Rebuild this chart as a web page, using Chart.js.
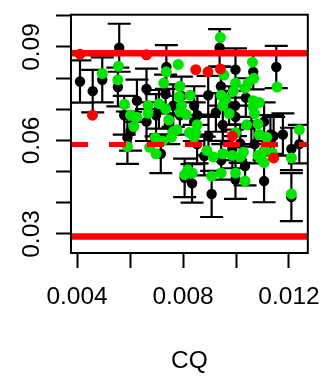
<html>
<head>
<meta charset="UTF-8">
<script src="https://cdn.jsdelivr.net/npm/chart.js"></script>
<title>CQ</title>
<style>
  body { margin: 0; background: #fff; }
</style>
</head>
<body>
<div style="width: 336px; height: 382px;"><canvas id="cqPlot"></canvas></div>
<script>
    // black points (observed) with their vertical error
    const cqBlack = [0.00411, 0.00459, 0.00559, 0.00554, 0.00662, 0.00737, 0.00734, 0.00842, 0.00938, 0.00895,
        0.00998, 0.01065, 0.01037, 0.01152, 0.00943, 0.00997, 0.00578, 0.00590, 0.00834, 0.00908,
        0.01034, 0.01142, 0.01106, 0.01209, 0.01209, 0.01239, 0.00806, 0.00896, 0.00944, 0.00998,
        0.00602, 0.00662, 0.00746, 0.00794, 0.00788, 0.00842, 0.00974, 0.00854, 0.00998, 0.01106,
        0.01130, 0.00716, 0.00986, 0.01070, 0.00698, 0.00950, 0.00853, 0.01058, 0.00763, 0.00626,
        0.01177, 0.00495, 0.00709, 0.00880, 0.00924, 0.01016];
    const valBlack = [0.07893, 0.07583, 0.08975, 0.07716, 0.07655, 0.08357, 0.07491, 0.07119, 0.08975, 0.07450,
        0.08273, 0.08202, 0.07376, 0.08357, 0.07738, 0.07119, 0.06810, 0.06089, 0.04623, 0.04283,
        0.05180, 0.06139, 0.04697, 0.04181, 0.05728, 0.05882, 0.04800, 0.06139, 0.05366, 0.04747,
        0.06294, 0.06603, 0.06501, 0.07429, 0.06810, 0.06603, 0.07119, 0.06810, 0.06757, 0.06603,
        0.06191, 0.05573, 0.05728, 0.05882, 0.06810, 0.06501, 0.05882, 0.06501, 0.07119, 0.07274,
        0.06191, 0.07945, 0.07000, 0.05500, 0.06900, 0.05900];
    const errBlack = [0.0068, 0.0068, 0.0077, 0.0062, 0.0065, 0.0070, 0.0062, 0.0062, 0.0060, 0.0062,
        0.0068, 0.0056, 0.0062, 0.0068, 0.0062, 0.0062, 0.0062, 0.0084, 0.0062, 0.0074,
        0.0062, 0.0062, 0.0068, 0.0077, 0.0068, 0.0062, 0.0062, 0.0062, 0.0062, 0.0062,
        0.0062, 0.0062, 0.0062, 0.0062, 0.0062, 0.0062, 0.0062, 0.0062, 0.0062, 0.0062,
        0.0062, 0.0062, 0.0062, 0.0062, 0.0068, 0.0062, 0.0062, 0.0062, 0.0068, 0.0068,
        0.0068, 0.0072, 0.0062, 0.0062, 0.0062, 0.0062];

    // green points
    const cqGreen = [0.00495, 0.00556, 0.00554, 0.00579, 0.00602, 0.00626, 0.00668, 0.00668, 0.00709, 0.00734,
        0.00737, 0.00727, 0.00782, 0.00788, 0.00786, 0.00827, 0.00794, 0.00789, 0.00812, 0.00746,
        0.00614, 0.00853, 0.00941, 0.00954, 0.00944, 0.00962, 0.00950, 0.00974, 0.00998, 0.00990,
        0.01034, 0.01046, 0.01062, 0.01067, 0.01065, 0.01088, 0.01065, 0.01070, 0.01155, 0.01239,
        0.01040, 0.01083, 0.01088, 0.00998, 0.00848, 0.00590, 0.00695, 0.00722, 0.00674, 0.00698,
        0.00763, 0.00777, 0.00824, 0.00842, 0.00756, 0.00818, 0.00835, 0.00806, 0.00890, 0.00914,
        0.00950, 0.00986, 0.01016, 0.01028, 0.01083, 0.01106, 0.01106, 0.01137, 0.01094, 0.01209,
        0.01209, 0.00908, 0.00944, 0.00998, 0.01034, 0.01116];
    const valGreen = [0.08149, 0.08378, 0.07945, 0.07160, 0.06810, 0.06748, 0.07119, 0.06872, 0.07181, 0.07017,
        0.08202, 0.07840, 0.08440, 0.07738, 0.07407, 0.07450, 0.07119, 0.06912, 0.06832, 0.06655,
        0.06448, 0.06501, 0.09306, 0.08100, 0.07450, 0.07336, 0.07119, 0.06863, 0.07840, 0.07583,
        0.07676, 0.07840, 0.08511, 0.07995, 0.07274, 0.07221, 0.07067, 0.06863, 0.07716, 0.06346,
        0.06501, 0.06532, 0.06191, 0.06244, 0.06253, 0.05799, 0.06089, 0.05984, 0.05780, 0.05573,
        0.06284, 0.06346, 0.06253, 0.06099, 0.06099, 0.05056, 0.04954, 0.04902, 0.05675, 0.05471,
        0.05573, 0.05520, 0.05471, 0.05626, 0.05520, 0.05675, 0.05285, 0.05594, 0.05418, 0.05440,
        0.04283, 0.04852, 0.04954, 0.04954, 0.04697, 0.06099];

    // red points
    const cqRed = [0.00411, 0.00662, 0.00458, 0.00848, 0.00894, 0.00941, 0.00986, 0.01142];
    const valRed = [0.08768, 0.08749, 0.06810, 0.08273, 0.08202, 0.08295, 0.06139, 0.05440];

    // horizontal reference lines: upper, centre (dashed), lower
    const limitValues = [0.0880, 0.0587, 0.0292];

    const xMin = 0.00377, xMax = 0.01271;
    const yMin = 0.02388, yMax = 0.10036;
    const xTickLabels = ['0.004', '0.008', '0.012'];
    const yTickLabels = ['0.03', '0.06', '0.09'];

    const pts = (xs, ys) => xs.map((x, i) => ({ x: x, y: ys[i] }));
    const hline = v => [{ x: xMin, y: v }, { x: xMax, y: v }];

    // draws the vertical error bars of the black points
    const errorBars = {
        id: 'errorBars',
        beforeDatasetsDraw(chart) {
            const ctx = chart.ctx;
            const xs = chart.scales.x, ys = chart.scales.y;
            const a = chart.chartArea;
            ctx.save();
            ctx.beginPath();
            ctx.rect(a.left, a.top, a.right - a.left, a.bottom - a.top);
            ctx.clip();
            ctx.strokeStyle = '#000';
            ctx.lineWidth = 2.2;
            ctx.beginPath();
            for (let i = 0; i < cqBlack.length; i++) {
                const px = xs.getPixelForValue(cqBlack[i]);
                const top = ys.getPixelForValue(valBlack[i] + errBlack[i]);
                const bot = ys.getPixelForValue(valBlack[i] - errBlack[i]);
                ctx.moveTo(px, top); ctx.lineTo(px, bot);
                ctx.moveTo(px - 11.5, top); ctx.lineTo(px + 11.5, top);
                ctx.moveTo(px - 11.5, bot); ctx.lineTo(px + 11.5, bot);
            }
            ctx.stroke();
            ctx.restore();
        },
        afterDraw(chart) {
            const a = chart.chartArea;
            const ctx = chart.ctx;
            ctx.save();
            ctx.strokeStyle = '#000';
            ctx.lineWidth = 2;
            ctx.strokeRect(a.left, a.top, a.right - a.left, a.bottom - a.top);
            ctx.restore();
        }
    };

    const font = { family: '"Liberation Sans", Arial, sans-serif', size: 24.5 };

    new Chart(document.getElementById('cqPlot'), {
        type: 'scatter',
        data: {
            datasets: [
                { data: hline(limitValues[0]), showLine: true, borderColor: '#ff0000', borderWidth: 6.5, pointRadius: 0, order: 0 },
                { data: hline(limitValues[1]), showLine: true, borderColor: '#ff0000', borderWidth: 5, borderDash: [17, 21], pointRadius: 0, order: 0 },
                { data: hline(limitValues[2]), showLine: true, borderColor: '#ff0000', borderWidth: 6.5, pointRadius: 0, order: 0 },
                { data: pts(cqRed, valRed), backgroundColor: '#ff0000', borderWidth: 0, pointRadius: 5.5, order: 1 },
                { data: pts(cqGreen, valGreen), backgroundColor: '#00e400', borderWidth: 0, pointRadius: 5.5, order: 2 },
                { data: pts(cqBlack, valBlack), backgroundColor: '#000000', borderWidth: 0, pointRadius: 5.2, order: 3 }
            ]
        },
        options: {
            responsive: true,
            maintainAspectRatio: false,
            animation: false,
            layout: { padding: { top: 6, right: 17, bottom: 0, left: 0 } },
            plugins: { legend: { display: false }, tooltip: { enabled: false } },
            scales: {
                x: {
                    type: 'linear', min: xMin, max: xMax,
                    afterFit: s => { s.height = 129; },
                    border: { display: true, color: '#000', width: 2 },
                    grid: { drawOnChartArea: false, drawTicks: true, tickLength: 15, tickWidth: 2, tickColor: '#000' },
                    ticks: {
                        stepSize: 0.002, includeBounds: false, autoSkip: false, maxRotation: 0,
                        color: '#000', font: font, padding: 15,
                        callback: v => {
                            const s = (Math.round(v * 1000) / 1000).toFixed(3);
                            return xTickLabels.includes(s) ? s : '';
                        }
                    },
                    title: { display: true, text: 'CQ', color: '#000', font: font, padding: { top: 0, bottom: 6 } }
                },
                y: {
                    type: 'linear', min: yMin, max: yMax,
                    afterFit: s => { s.width = 71; },
                    border: { display: true, color: '#000', width: 2 },
                    grid: { drawOnChartArea: false, drawTicks: true, tickLength: 15, tickWidth: 2, tickColor: '#000' },
                    ticks: {
                        stepSize: 0.01, includeBounds: false, autoSkip: false,
                        minRotation: 90, maxRotation: 90, crossAlign: 'center',
                        color: '#000', font: font, padding: 0,
                        callback: v => {
                            const s = (Math.round(v * 100) / 100).toFixed(2);
                            return yTickLabels.includes(s) ? s : '';
                        }
                    }
                }
            }
        },
        plugins: [errorBars]
    });
</script>
</body>
</html>
